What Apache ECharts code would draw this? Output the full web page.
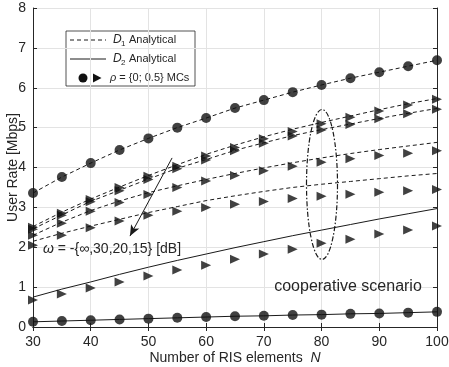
<!DOCTYPE html>
<html>
<head>
<meta charset="utf-8">
<script src="https://cdn.jsdelivr.net/npm/echarts@6/dist/echarts.min.js"></script>
<style>
  html, body { margin: 0; padding: 0; background: #fff; }
  #main { width: 449px; height: 367px; }
</style>
</head>
<body>
<div id="main"></div>
<script>
// number of RIS elements
var nValues = [30, 35, 40, 45, 50, 55, 60, 65, 70, 75, 80, 85, 90, 95, 100];

// D1, rho = 0 (analytical and MC coincide)
var d1Rho0 = [3.36, 3.76, 4.11, 4.44, 4.73, 5.0, 5.24, 5.49, 5.69, 5.89, 6.07, 6.24, 6.39, 6.54, 6.69];

// D1 analytical, omega = inf, 30, 20, 15 dB
var d1OmegaInf = [2.52, 2.88, 3.21, 3.51, 3.8, 4.07, 4.33, 4.56, 4.77, 4.96, 5.13, 5.29, 5.45, 5.6, 5.73];
var d1Omega30 = [2.46, 2.81, 3.15, 3.43, 3.71, 3.98, 4.2, 4.43, 4.62, 4.8, 4.95, 5.09, 5.23, 5.36, 5.48];
var d1Omega20 = [2.3, 2.63, 2.92, 3.16, 3.37, 3.54, 3.7, 3.85, 3.99, 4.12, 4.24, 4.35, 4.45, 4.54, 4.63];
var d1Omega15 = [2.15, 2.35, 2.53, 2.7, 2.87, 3.02, 3.17, 3.29, 3.4, 3.5, 3.58, 3.65, 3.72, 3.79, 3.85];

// D1 MC, rho = 0.5
var d1OmegaInfMc = [2.5, 2.85, 3.2, 3.5, 3.78, 4.03, 4.29, 4.5, 4.72, 4.9, 5.1, 5.26, 5.42, 5.57, 5.71];
var d1Omega30Mc = [2.45, 2.8, 3.14, 3.42, 3.7, 3.97, 4.19, 4.42, 4.61, 4.79, 4.94, 5.08, 5.22, 5.35, 5.46];
var d1Omega20Mc = [2.3, 2.6, 2.9, 3.12, 3.32, 3.5, 3.66, 3.8, 3.92, 4.03, 4.13, 4.22, 4.3, 4.36, 4.42];
var d1Omega15Mc = [2.05, 2.3, 2.49, 2.66, 2.8, 2.9, 3.0, 3.08, 3.15, 3.22, 3.28, 3.33, 3.38, 3.42, 3.45];

// D2
var d2Rho0 = [0.13, 0.15, 0.17, 0.19, 0.21, 0.23, 0.25, 0.27, 0.28, 0.3, 0.31, 0.33, 0.34, 0.36, 0.38];
var d2Analytical = [0.75, 0.95, 1.13, 1.32, 1.5, 1.67, 1.83, 1.99, 2.14, 2.29, 2.43, 2.57, 2.71, 2.84, 2.97];
var d2Mc = [0.68, 0.83, 0.98, 1.13, 1.28, 1.43, 1.55, 1.7, 1.83, 1.95, 2.1, 2.2, 2.33, 2.43, 2.53];

// arrow for the omega annotation: [N, rate]
var arrowFrom = [54.1, 4.24];
var arrowTo = [46.8, 2.28];

var FONT = '"Liberation Sans", Arial, Helvetica, sans-serif';
var INK = '#1a1a1a';
var AXIS = '#262626';

function pairs(vals) {
    return nValues.map(function (n, i) { return [n, vals[i]]; });
}

function lineSeries(name, vals, dashed) {
    return {
        name: name,
        type: 'line',
        data: pairs(vals),
        symbol: 'none',
        silent: true,
        z: 2,
        lineStyle: { color: INK, width: 1, type: dashed ? [4, 3] : 'solid' }
    };
}

function markerSeries(name, vals, shape) {
    return {
        name: name,
        type: 'scatter',
        data: pairs(vals),
        symbol: shape,
        symbolSize: shape == 'circle' ? 10 : [9, 10],
        symbolRotate: shape == 'triangle' ? -90 : 0,
        z: 3,
        itemStyle: { color: '#111' }
    };
}

var series = [
    lineSeries('D1 rho0', d1Rho0, true),
    lineSeries('D1 inf', d1OmegaInf, true),
    lineSeries('D1 30', d1Omega30, true),
    lineSeries('D1 20', d1Omega20, true),
    lineSeries('D1 15', d1Omega15, true),
    lineSeries('D2 rho0', d2Rho0, false),
    lineSeries('D2', d2Analytical, false),
    markerSeries('D1 rho0 MC', d1Rho0, 'circle'),
    markerSeries('D1 inf MC', d1OmegaInfMc, 'triangle'),
    markerSeries('D1 30 MC', d1Omega30Mc, 'triangle'),
    markerSeries('D1 20 MC', d1Omega20Mc, 'triangle'),
    markerSeries('D1 15 MC', d1Omega15Mc, 'triangle'),
    markerSeries('D2 rho0 MC', d2Rho0, 'circle'),
    markerSeries('D2 MC', d2Mc, 'triangle')
];

// arrow across the omega curves
series[0].markLine = {
    silent: true,
    symbol: ['none', 'arrow'],
    symbolSize: [7, 11],
    label: { show: false },
    lineStyle: { color: INK, width: 1, type: 'solid' },
    data: [[{ coord: arrowFrom }, { coord: arrowTo }]]
};

var option = {
    animation: false,
    backgroundColor: '#fff',
    textStyle: { fontFamily: FONT },
    grid: { left: 33, right: 12, top: 8, bottom: 40, containLabel: false, outerBoundsMode: 'none' },
    xAxis: [
        {
            type: 'value', min: 30, max: 100, interval: 10,
            name: '{a|Number of RIS elements  }{b|N}',
            nameLocation: 'middle', nameGap: 24, nameMoveOverlap: false,
            nameTextStyle: {
                rich: {
                    a: { fontSize: 14, color: AXIS, fontFamily: FONT },
                    b: { fontSize: 14, color: AXIS, fontFamily: FONT, fontStyle: 'italic' }
                }
            },
            axisLine: { lineStyle: { color: AXIS } },
            axisTick: { inside: true, length: 4, lineStyle: { color: AXIS } },
            axisLabel: { fontSize: 14, color: AXIS, margin: 8, fontFamily: FONT },
            splitLine: { show: true, lineStyle: { color: '#e3e3e3' } }
        },
        {
            type: 'value', min: 30, max: 100, interval: 10, position: 'top',
            axisLine: { show: true, lineStyle: { color: AXIS } },
            axisTick: { show: true, inside: true, length: 4, lineStyle: { color: AXIS } },
            axisLabel: { show: false },
            splitLine: { show: false }
        }
    ],
    yAxis: [
        {
            type: 'value', min: 0, max: 8, interval: 1,
            name: 'User Rate [Mbps]',
            nameLocation: 'middle', nameGap: 13, nameMoveOverlap: false,
            nameTextStyle: { fontSize: 14, color: AXIS, fontFamily: FONT },
            axisLine: { show: true, lineStyle: { color: AXIS } },
            axisTick: { show: true, inside: true, length: 4, lineStyle: { color: AXIS } },
            axisLabel: { fontSize: 14, color: AXIS, margin: 7, fontFamily: FONT },
            splitLine: { show: true, lineStyle: { color: '#e3e3e3' } }
        },
        {
            type: 'value', min: 0, max: 8, interval: 1, position: 'right',
            axisLine: { show: true, lineStyle: { color: AXIS } },
            axisTick: { show: true, inside: true, length: 4, lineStyle: { color: AXIS } },
            axisLabel: { show: false },
            splitLine: { show: false }
        }
    ],
    series: series,
    graphic: [
        // legend box
        {
            type: 'group', z: 10,
            children: [
                { type: 'rect', shape: { x: 66, y: 31, width: 129, height: 55 },
                  style: { fill: '#fff', stroke: AXIS, lineWidth: 0.8 } },
                { type: 'line', shape: { x1: 70, y1: 40, x2: 106, y2: 40 },
                  style: { stroke: INK, lineWidth: 1, lineDash: [4, 3] } },
                { type: 'text', x: 113, y: 40,
                  style: { text: 'D', font: 'italic 12px ' + FONT, fill: AXIS, verticalAlign: 'middle' } },
                { type: 'text', x: 121, y: 44,
                  style: { text: '1', font: '8px ' + FONT, fill: AXIS, verticalAlign: 'middle' } },
                { type: 'text', x: 129, y: 40,
                  style: { text: 'Analytical', font: '11px ' + FONT, fill: AXIS, verticalAlign: 'middle' } },
                { type: 'line', shape: { x1: 70, y1: 59, x2: 106, y2: 59 },
                  style: { stroke: INK, lineWidth: 1 } },
                { type: 'text', x: 113, y: 59,
                  style: { text: 'D', font: 'italic 12px ' + FONT, fill: AXIS, verticalAlign: 'middle' } },
                { type: 'text', x: 121, y: 63,
                  style: { text: '2', font: '8px ' + FONT, fill: AXIS, verticalAlign: 'middle' } },
                { type: 'text', x: 129, y: 59,
                  style: { text: 'Analytical', font: '11px ' + FONT, fill: AXIS, verticalAlign: 'middle' } },
                { type: 'circle', shape: { cx: 83, cy: 78, r: 4.5 }, style: { fill: '#111' } },
                { type: 'polygon', shape: { points: [[93, 73.5], [93, 82.5], [101.5, 78]] }, style: { fill: '#111' } },
                { type: 'text', x: 110, y: 78,
                  style: {
                      text: '{r|ρ} = {0; 0.5} MCs',
                      font: '11px ' + FONT, fill: AXIS, verticalAlign: 'middle',
                      rich: { r: { fontStyle: 'italic', fontSize: 11, fontFamily: FONT, fill: AXIS } }
                  } }
            ]
        },
        // omega label
        {
            type: 'text', x: 43, y: 249, z: 10,
            style: {
                text: '{w|ω} = -{∞,30,20,15} [dB]',
                font: '14px ' + FONT, fill: AXIS, verticalAlign: 'middle',
                rich: { w: { fontStyle: 'italic', fontSize: 14, fontFamily: FONT, fill: AXIS } }
            }
        },
        // cooperative scenario ellipse and label
        {
            type: 'ellipse', z: 10,
            shape: { cx: 322, cy: 184.5, rx: 15.5, ry: 75 },
            style: { fill: 'none', stroke: INK, lineWidth: 1.2, lineDash: [5, 2, 1.5, 2] }
        },
        {
            type: 'text', x: 348, y: 287, z: 10,
            style: { text: 'cooperative scenario', font: '16px ' + FONT, fill: AXIS,
                     align: 'center', verticalAlign: 'middle' }
        }
    ]
};

var myChart = echarts.init(document.getElementById('main'));
myChart.setOption(option);
</script>
</body>
</html>
